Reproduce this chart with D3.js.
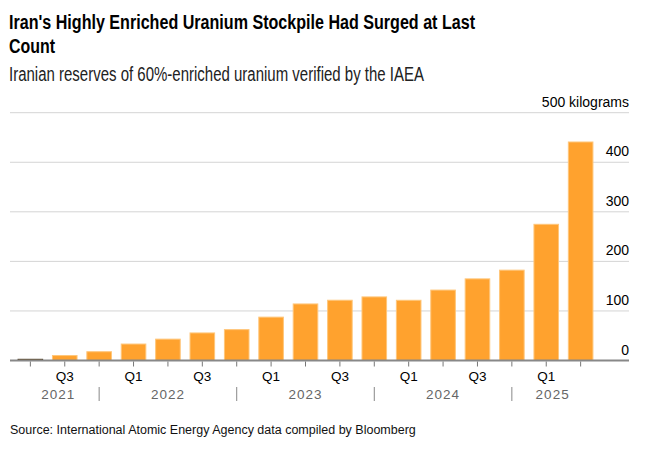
<!DOCTYPE html>
<html>
<head>
<meta charset="utf-8">
<script src="https://cdn.jsdelivr.net/npm/d3@7"></script>
<style>
  body { margin: 0; background: #fff; }
  svg { display: block; font-family: "Liberation Sans", Arial, sans-serif; }
</style>
</head>
<body>
<script>
// quarters shown as bars
const quarters = ["Q2 2021", "Q3 2021", "Q4 2021", "Q1 2022", "Q2 2022", "Q3 2022", "Q4 2022",
  "Q1 2023", "Q2 2023", "Q3 2023", "Q4 2023", "Q1 2024", "Q2 2024", "Q3 2024", "Q4 2024",
  "Q1 2025", "Q2 2025"];
// kilograms of 60% enriched uranium
const stock = [2.4, 10, 17.7, 33.2, 43.1, 55.6, 62.3, 87.5, 114.1, 121.6, 128.3, 121.5, 142.1, 164.7, 182.3, 274.8, 440.9];
const yTicks = [0, 100, 200, 300, 400, 500];
const years = ["2021", "2022", "2023", "2024", "2025"];

const w = 651, h = 449;
const left = 10, right = 629;

const svg = d3.select("body").append("svg")
  .attr("width", w)
  .attr("height", h);

// titles
svg.append("text")
  .attr("x", 9).attr("y", 29)
  .attr("textLength", 466).attr("lengthAdjust", "spacingAndGlyphs")
  .style("font-size", "19.5px").style("font-weight", "bold").style("fill", "#000")
  .text("Iran's Highly Enriched Uranium Stockpile Had Surged at Last");
svg.append("text")
  .attr("x", 9).attr("y", 53)
  .attr("textLength", 46).attr("lengthAdjust", "spacingAndGlyphs")
  .style("font-size", "19.5px").style("font-weight", "bold").style("fill", "#000")
  .text("Count");
svg.append("text")
  .attr("x", 9).attr("y", 81)
  .attr("textLength", 415).attr("lengthAdjust", "spacingAndGlyphs")
  .style("font-size", "19.5px").style("fill", "#222")
  .text("Iranian reserves of 60%-enriched uranium verified by the IAEA");

const x = d3.scaleBand()
  .domain(quarters)
  .range([left, 601])
  .paddingInner(0.256)
  .paddingOuter(0.22);

const y = d3.scaleLinear()
  .domain([0, 500])
  .range([360.5, 112.7]);

// grid lines
svg.append("g").selectAll("line")
  .data(yTicks.filter(d => d > 0))
  .enter().append("line")
  .attr("x1", left).attr("x2", right)
  .attr("y1", d => y(d)).attr("y2", d => y(d))
  .style("stroke", "#d4d4d4").style("stroke-width", 1);

// y labels, sitting above the grid lines
svg.append("g").selectAll("text")
  .data(yTicks)
  .enter().append("text")
  .attr("x", right).attr("y", d => y(d) - 6)
  .attr("text-anchor", "end")
  .style("font-size", "14px").style("fill", "#000")
  .text(d => d == 500 ? "500 kilograms" : d);

// bars
svg.append("g").selectAll("rect")
  .data(stock)
  .enter().append("rect")
  .attr("x", (d, i) => x(quarters[i]) + 0.5)
  .attr("y", d => y(d))
  .attr("width", x.bandwidth() - 1)
  .attr("height", d => y(0) - y(d))
  .style("fill", "#ffa22e")
  .style("stroke", (d, i) => i == 0 ? "#3a2a10" : "#ffc67a")
  .style("stroke-width", 1);

// baseline
svg.append("line")
  .attr("x1", left).attr("x2", right)
  .attr("y1", y(0)).attr("y2", y(0))
  .style("stroke", "#888").style("stroke-width", 2);

// quarter ticks
const xAxis = d3.axisBottom(x)
  .tickSize(5)
  .tickPadding(5)
  .tickFormat((d, i) => i % 2 == 1 ? d.split(" ")[0] : "");

const gx = svg.append("g")
  .attr("transform", "translate(0," + (y(0) + 1) + ")")
  .call(xAxis);
gx.select(".domain").remove();
gx.selectAll(".tick line").style("stroke", "#777");
gx.selectAll(".tick text")
  .style("font-size", "13.5px")
  .style("font-family", "Liberation Sans, Arial, sans-serif")
  .style("fill", "#000");

// year separators at the Q4 ticks
const seps = quarters.filter(q => q.startsWith("Q4"));
svg.append("g").selectAll("line")
  .data(seps)
  .enter().append("line")
  .attr("x1", d => x(d) + x.bandwidth() / 2)
  .attr("x2", d => x(d) + x.bandwidth() / 2)
  .attr("y1", 387).attr("y2", 401)
  .style("stroke", "#888").style("stroke-width", 1);

// year labels centred between separators
const bounds = [x(quarters[0])].concat(seps.map(d => x(d) + x.bandwidth() / 2))
  .concat([x(quarters[quarters.length - 1]) + x.bandwidth()]);
svg.append("g").selectAll("text")
  .data(years)
  .enter().append("text")
  .attr("x", (d, i) => (bounds[i] + bounds[i + 1]) / 2)
  .attr("y", 398.5)
  .attr("text-anchor", "middle")
  .style("font-size", "13.5px")
  .style("letter-spacing", "1px")
  .style("fill", "#666")
  .text(d => d);

// source
svg.append("text")
  .attr("x", 10).attr("y", 434)
  .style("font-size", "12.5px").style("fill", "#111")
  .text("Source: International Atomic Energy Agency data compiled by Bloomberg");
</script>
</body>
</html>
